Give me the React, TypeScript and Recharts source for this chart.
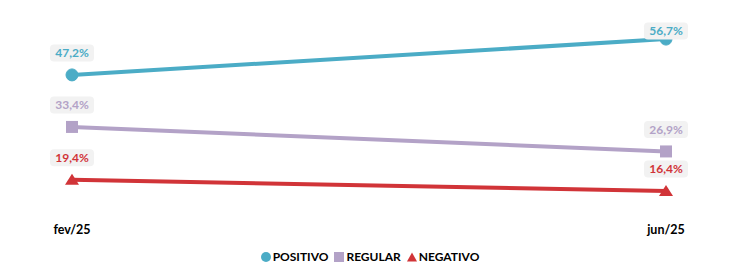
import { Legend, Line, LineChart, XAxis, YAxis } from 'recharts'

const periods = ['fev/25', 'jun/25']
const positivo = [47.2, 56.7]
const regular = [33.4, 26.9]
const negativo = [19.4, 16.4]

const data = periods.map((p, i) => ({
  period: p,
  positivo: positivo[i],
  regular: regular[i],
  negativo: negativo[i],
}))

const BLUE = '#4BACC6'
const LILAC = '#B3A2C7'
const RED = '#D13438'
const FONT = 'Lato, "Open Sans", sans-serif'

const fmt = (v: number) => v.toFixed(1).replace('.', ',') + '%'

function makeLabel(color: string) {
  return (props: any) => {
    const { x, y, value } = props
    const cy = Math.max(y - 22, 23)
    return (
      <g>
        <rect x={x - 22} y={cy - 8.5} width={44} height={17} rx={4} fill="#F2F2F2" />
        <text
          x={x}
          y={cy}
          dy="0.35em"
          textAnchor="middle"
          fill={color}
          fontFamily={FONT}
          fontWeight={700}
          fontSize={12}
        >
          {fmt(value)}
        </text>
      </g>
    )
  }
}

const Square = (props: any) => {
  const { cx, cy } = props
  return <rect x={cx - 6} y={cy - 6} width={12} height={12} fill={LILAC} />
}

const Triangle = (props: any) => {
  const { cx, cy } = props
  return <path d={`M${cx},${cy - 6} L${cx + 7},${cy + 5} L${cx - 7},${cy + 5} Z`} fill={RED} />
}

const legendItems = [
  { name: 'POSITIVO', color: BLUE, shape: 'circle' },
  { name: 'REGULAR', color: LILAC, shape: 'square' },
  { name: 'NEGATIVO', color: RED, shape: 'triangle' },
]

function LegendContent() {
  return (
    <div
      style={{
        display: 'flex',
        justifyContent: 'center',
        gap: 6,
        fontFamily: FONT,
        fontWeight: 700,
        fontSize: 12,
        lineHeight: '16px',
        color: '#000',
      }}
    >
      {legendItems.map((it) => (
        <div key={it.name} style={{ display: 'flex', alignItems: 'center', gap: 2 }}>
          <svg width={10} height={10}>
            {it.shape === 'circle' && <circle cx={5} cy={5} r={5} fill={it.color} />}
            {it.shape === 'square' && <rect x={0} y={0} width={10} height={10} fill={it.color} />}
            {it.shape === 'triangle' && <path d="M5,0.5 L10,9.5 L0,9.5 Z" fill={it.color} />}
          </svg>
          <span>{it.name}</span>
        </div>
      ))}
    </div>
  )
}

export default function App() {
  return (
    <LineChart width={724} height={258} data={data} margin={{ top: 13, right: 66, bottom: 0, left: 64 }}>
      <XAxis
        dataKey="period"
        axisLine={false}
        tickLine={false}
        tickSize={0}
        tickMargin={16}
        height={40.5}
        tick={{ fill: '#000', fontFamily: FONT, fontWeight: 700, fontSize: 12.5 }}
      />
      <YAxis hide domain={[11.5, 61.5]} />
      <Legend content={<LegendContent />} wrapperStyle={{ top: 241, left: 0, width: 724 }} />
      <Line
        dataKey="positivo"
        stroke={BLUE}
        strokeWidth={4}
        dot={{ r: 6, fill: BLUE, stroke: BLUE, strokeWidth: 1 }}
        label={makeLabel(BLUE)}
        isAnimationActive={false}
      />
      <Line
        dataKey="regular"
        stroke={LILAC}
        strokeWidth={4}
        dot={<Square />}
        label={makeLabel(LILAC)}
        isAnimationActive={false}
      />
      <Line
        dataKey="negativo"
        stroke={RED}
        strokeWidth={4}
        dot={<Triangle />}
        label={makeLabel(RED)}
        isAnimationActive={false}
      />
    </LineChart>
  )
}
